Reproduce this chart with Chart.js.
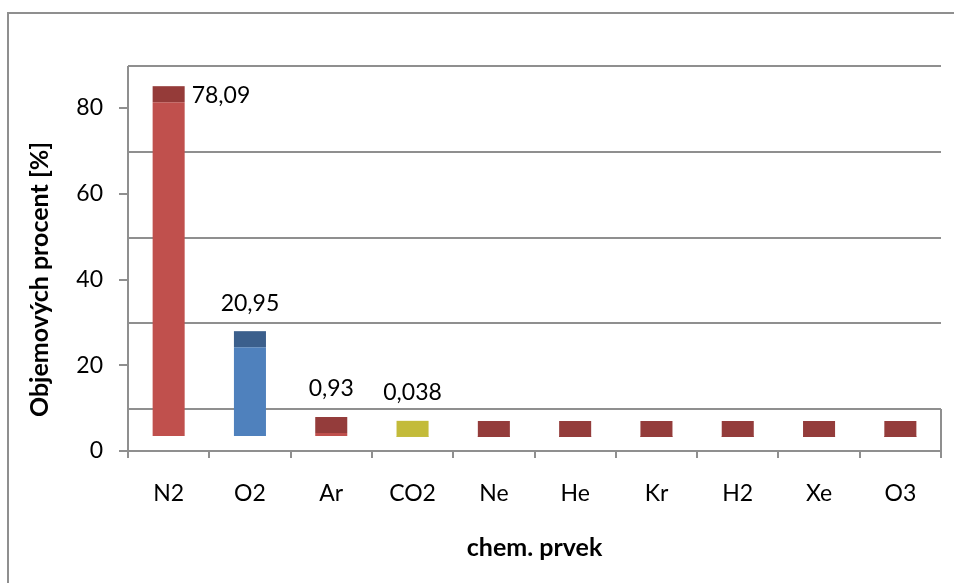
<!DOCTYPE html>
<html>
<head>
<meta charset="utf-8">
<script src="https://cdn.jsdelivr.net/npm/chart.js@4/dist/chart.umd.min.js"></script>
<style>
  html, body { margin: 0; padding: 0; background: #fff; }
  #wrap { width: 954px; height: 583px; }
</style>
</head>
<body>
<div id="wrap"><canvas id="airChart" width="954" height="583"></canvas></div>
<script>
// data
const categories = ['N2', 'O2', 'Ar', 'CO2', 'Ne', 'He', 'Kr', 'H2', 'Xe', 'O3'];
const values = [78.09, 20.95, 0.93, 0.038, 0.0018, 0.00052, 0.000114, 0.00005, 0.0000087, 0.000007];
const yTicks = [0, 20, 40, 60, 80];
const yTitle = 'Objemových procent [%]';
const xTitle = 'chem. prvek';

// styles
const frontColors = ['#C0504D', '#4F81BD', '#C0504D', '#C3BB3A', '#C0504D', '#C0504D', '#C0504D', '#C0504D', '#C0504D', '#C0504D'];
const topColors = ['#953B39', '#3B5F8C', '#943C3B', '#C3BB3A', '#943C3B', '#943C3B', '#943C3B', '#943C3B', '#943C3B', '#943C3B'];
const FONT = 'Lato, "Open Sans", sans-serif';
const LINE = '#8f8f8f';
const WALL_DEPTH = 42;   // back wall is shifted up by this many px
const BAR_SHIFT = 14;    // bars stand a bit behind the front edge
const BAR_DEPTH = 16;    // visible top face of each bar

const fmt = v => String(v).replace('.', ',');

// frame, back wall grid and floor (fake 3D)
const wallPlugin = {
    id: 'wall',
    beforeDraw(chart) {
        const ctx = chart.ctx;
        ctx.save();
        ctx.strokeStyle = LINE;
        ctx.lineWidth = 2;
        ctx.beginPath();
        ctx.moveTo(8, 600);
        ctx.lineTo(8, 13);
        ctx.lineTo(960, 13);
        ctx.stroke();
        ctx.restore();
    },
    beforeDatasetsDraw(chart) {
        const { ctx, chartArea, scales } = chart;
        const y = scales.y;
        ctx.save();
        ctx.strokeStyle = LINE;
        ctx.lineWidth = 2;
        ctx.beginPath();
        yTicks.forEach(v => {
            const py = Math.round(y.getPixelForValue(v) - WALL_DEPTH);
            ctx.moveTo(chartArea.left, py);
            ctx.lineTo(chartArea.right, py);
        });
        // left wall edge up to the top of the back wall
        ctx.moveTo(chartArea.left, y.getPixelForValue(yTicks[yTicks.length - 1]) - WALL_DEPTH);
        ctx.lineTo(chartArea.left, chartArea.bottom);
        // right floor edge
        ctx.moveTo(chartArea.right, y.getPixelForValue(0) - WALL_DEPTH);
        ctx.lineTo(chartArea.right, chartArea.bottom);
        ctx.stroke();
        ctx.restore();
    }
};

// shift bars into depth and add their top faces + value labels
const barPlugin = {
    id: 'bar3d',
    beforeDatasetDraw(chart) {
        chart.ctx.save();
        chart.ctx.translate(0, -BAR_SHIFT);
    },
    afterDatasetDraw(chart, args) {
        const ctx = chart.ctx;
        const bars = args.meta.data;
        bars.forEach((bar, i) => {
            const w = bar.width;
            ctx.fillStyle = topColors[i];
            ctx.fillRect(bar.x - w / 2, bar.y - BAR_DEPTH, w, BAR_DEPTH);
        });
        ctx.restore();

        ctx.save();
        ctx.fillStyle = '#000';
        ctx.font = '23px ' + FONT;
        ctx.textBaseline = 'middle';
        bars.forEach((bar, i) => {
            if (values[i] < 0.01) return;
            const top = bar.y - BAR_SHIFT - BAR_DEPTH;
            if (i === 0) {
                ctx.textAlign = 'left';
                ctx.fillText(fmt(values[i]), bar.x + bar.width / 2 + 7, top + 9);
            } else {
                ctx.textAlign = 'center';
                ctx.fillText(fmt(values[i]), bar.x, top - 28);
            }
        });
        ctx.restore();
    }
};

new Chart(document.getElementById('airChart'), {
    type: 'bar',
    data: {
        labels: categories,
        datasets: [{
            data: values,
            backgroundColor: frontColors,
            borderWidth: 0,
            categoryPercentage: 1,
            barPercentage: 0.394,
            clip: false
        }]
    },
    options: {
        responsive: false,
        animation: false,
        events: [],
        layout: { padding: { left: 10, right: 13, top: 108, bottom: 0 } },
        plugins: {
            legend: { display: false },
            tooltip: { enabled: false }
        },
        scales: {
            y: {
                min: 0,
                max: 80,
                afterFit: s => { s.width = 118; },
                afterBuildTicks: s => { s.ticks = yTicks.map(v => ({ value: v })); },
                border: { color: LINE, width: 2 },
                grid: { drawOnChartArea: false, color: LINE, lineWidth: 2, tickLength: 9 },
                ticks: { color: '#000', padding: 16, font: { family: FONT, size: 23 } },
                title: {
                    display: true,
                    text: yTitle,
                    color: '#000',
                    padding: { top: 15, bottom: 0 },
                    font: { family: FONT, size: 25, weight: 'bold' }
                }
            },
            x: {
                afterFit: s => { s.height = 132; },
                border: { color: LINE, width: 2 },
                grid: { drawOnChartArea: false, offset: true, color: LINE, lineWidth: 2, tickLength: 7 },
                ticks: { color: '#000', padding: 22, font: { family: FONT, size: 23 } },
                title: {
                    display: true,
                    text: xTitle,
                    color: '#000',
                    padding: { top: 0, bottom: 20 },
                    font: { family: FONT, size: 25, weight: 'bold' }
                }
            }
        }
    },
    plugins: [wallPlugin, barPlugin]
});
</script>
</body>
</html>
